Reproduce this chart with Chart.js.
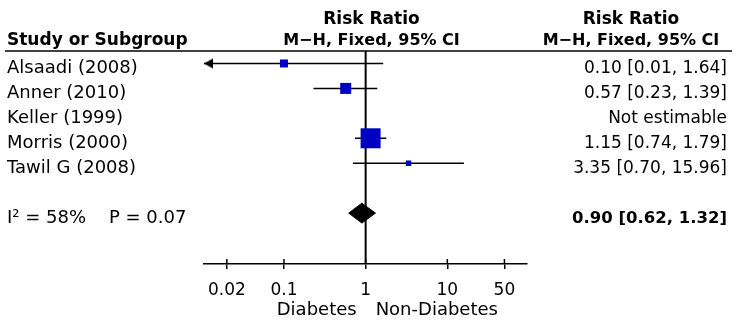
<!DOCTYPE html>
<html><head><meta charset="utf-8">
<script src="https://cdn.jsdelivr.net/npm/chart.js@4/dist/chart.umd.min.js"></script>
<style>html,body{margin:0;padding:0;background:#fff;}#wrap{width:738px;height:323px;position:relative;}</style>
</head><body><div id="wrap"><canvas id="c" width="738" height="323"></canvas></div>
<script>
// ---- data ----
const studies = ['Alsaadi (2008)', 'Anner (2010)', 'Keller (1999)', 'Morris (2000)', 'Tawil G (2008)'];
const riskRatio = [0.10, 0.57, null, 1.15, 3.35];
const ciLow = [0.01, 0.23, null, 0.74, 0.70];
const ciHigh = [1.64, 1.39, null, 1.79, 15.96];
const weights = [10.4, 19.7, 0, 65.0, 4.9];
const rrText = ['0.10 [0.01, 1.64]', '0.57 [0.23, 1.39]', 'Not estimable', '1.15 [0.74, 1.79]', '3.35 [0.70, 15.96]'];
const totalRR = [0.90];
const totalLow = [0.62];
const totalHigh = [1.32];
const totalText = ['0.90 [0.62, 1.32]'];
const heterogeneity = ['I\u00B2 = 58%    P = 0.07'];
const tickValues = [0.02, 0.1, 1, 10, 50];
const tickLabels = ['0.02', '0.1', '1', '10', '50'];
const favours = ['Diabetes', 'Non-Diabetes'];
const headerLeft = ['Study or Subgroup'];
const headerMid = ['Risk Ratio', 'M\u2212H, Fixed, 95% CI'];

// ---- layout constants ----
const FONT = "'DejaVu Sans'";
const X_MIN = 0.0105, X_MAX = 94.5;
const Y_MIN = -0.5, Y_MAX = 8.04;
const SUMMARY_ROW = 6;
const BLUE = '#0000c4';

Chart.defaults.font.family = FONT;
Chart.defaults.color = '#000';

const datasets = [];
studies.forEach((s, i) => {
  if (riskRatio[i] == null) return;
  datasets.push({
    data: [{x: ciLow[i], y: i}, {x: ciHigh[i], y: i}],
    showLine: true, borderColor: '#000', borderWidth: 1.5, pointRadius: 0, order: 3
  });
});
const arrowCanvas = (() => {
  const c = document.createElement('canvas');
  c.width = 20; c.height = 12;
  const g = c.getContext('2d');
  g.fillStyle = '#000';
  g.beginPath(); g.moveTo(10, 6); g.lineTo(19, 1); g.lineTo(19, 11); g.closePath(); g.fill();
  return c;
})();
const arrowPts = [];
studies.forEach((s, i) => { if (ciLow[i] != null && ciLow[i] < X_MIN) arrowPts.push({x: X_MIN, y: i}); });
datasets.push({data: arrowPts, pointStyle: arrowCanvas, pointRadius: 10, order: 1});
const sqData = [], sqRadius = [];
studies.forEach((s, i) => {
  if (riskRatio[i] == null) return;
  sqData.push({x: riskRatio[i], y: i});
  const side = 2.48 * Math.sqrt(weights[i]);
  sqRadius.push(side / Math.SQRT2);
});
datasets.push({data: sqData, pointStyle: 'rect', pointRadius: sqRadius, pointHoverRadius: sqRadius,
  backgroundColor: BLUE, borderColor: BLUE, borderWidth: 0, order: 0});
datasets.push({data: [{x: 1, y: Y_MIN}, {x: 1, y: Y_MAX}], showLine: true, borderColor: '#000',
  borderWidth: 2, pointRadius: 0, order: 2});
datasets.push({
  data: [{x: totalLow[0], y: SUMMARY_ROW}, {x: totalRR[0], y: SUMMARY_ROW - 0.4},
         {x: totalHigh[0], y: SUMMARY_ROW}, {x: totalRR[0], y: SUMMARY_ROW + 0.4},
         {x: totalLow[0], y: SUMMARY_ROW}],
  showLine: true, fill: 'shape', backgroundColor: '#000', borderColor: '#000', borderWidth: 1,
  pointRadius: 0, tension: 0, order: 0
});

const textPlugin = {
  id: 'forestText',
  afterDraw(chart) {
    const ctx = chart.ctx, xs = chart.scales.x, ys = chart.scales.y, ca = chart.chartArea;
    ctx.save();
    ctx.fillStyle = '#000'; ctx.strokeStyle = '#000';
    const top = ys.getPixelForValue(Y_MIN);
    ctx.lineWidth = 1.5;
    ctx.beginPath(); ctx.moveTo(5, top); ctx.lineTo(732, top); ctx.stroke();
    tickValues.forEach(v => {
      const px = xs.getPixelForValue(v);
      ctx.beginPath(); ctx.moveTo(px, ca.bottom - 5); ctx.lineTo(px, ca.bottom); ctx.stroke();
    });
    const midX = (ca.left + ca.right) / 2 + 6;
    const rightColX = 631;
    ctx.textBaseline = 'alphabetic';
    ctx.font = 'bold 17px ' + FONT;
    ctx.textAlign = 'left';
    ctx.fillText(headerLeft[0], 7, top - 6);
    ctx.textAlign = 'center';
    ctx.fillText(headerMid[0], midX, top - 27);
    ctx.fillText(headerMid[0], rightColX, top - 27);
    ctx.font = 'bold 16px ' + FONT;
    ctx.fillText(headerMid[1], midX, top - 6);
    ctx.fillText(headerMid[1], rightColX, top - 6);
    studies.forEach((s, i) => {
      const y = ys.getPixelForValue(i) + 10;
      ctx.font = '18px ' + FONT;
      ctx.textAlign = 'left'; ctx.fillText(s, 7, y);
      ctx.font = '17px ' + FONT;
      ctx.textAlign = 'right'; ctx.fillText(rrText[i], 727, y);
    });
    const sy = ys.getPixelForValue(SUMMARY_ROW) + 10;
    ctx.font = '18px ' + FONT;
    ctx.textAlign = 'left'; ctx.fillText(heterogeneity[0], 7, sy);
    ctx.font = 'bold 16.5px ' + FONT;
    ctx.textAlign = 'right'; ctx.fillText(totalText[0], 727, sy);
    ctx.font = '18px ' + FONT;
    const one = xs.getPixelForValue(1);
    ctx.textAlign = 'right'; ctx.fillText(favours[0], one - 9, 315);
    ctx.textAlign = 'left'; ctx.fillText(favours[1], one + 10, 315);
    ctx.restore();
  }
};

new Chart(document.getElementById('c'), {
  type: 'scatter',
  data: {datasets},
  options: {
    responsive: false, animation: false, events: [],
    layout: {padding: {left: 204, right: 211, top: 51, bottom: 0}, autoPadding: false},
    plugins: {legend: {display: false}, tooltip: {enabled: false}},
    scales: {
      x: {
        type: 'logarithmic', min: X_MIN, max: X_MAX,
        afterBuildTicks: s => { s.ticks = tickValues.map(v => ({value: v})); },
        afterFit: s => { s.height = 59; },
        ticks: {autoSkip: false, maxRotation: 0, padding: 11, color: '#000',
          font: {size: 17, family: FONT},
          callback: (v, i) => tickLabels[i]},
        grid: {drawOnChartArea: false, drawTicks: true, tickLength: 5, color: '#000', lineWidth: 1.5},
        border: {display: true, color: '#000', width: 1.6}
      },
      y: {type: 'linear', display: false, reverse: true, min: Y_MIN, max: Y_MAX}
    }
  },
  plugins: [textPlugin]
});
</script></body></html>
